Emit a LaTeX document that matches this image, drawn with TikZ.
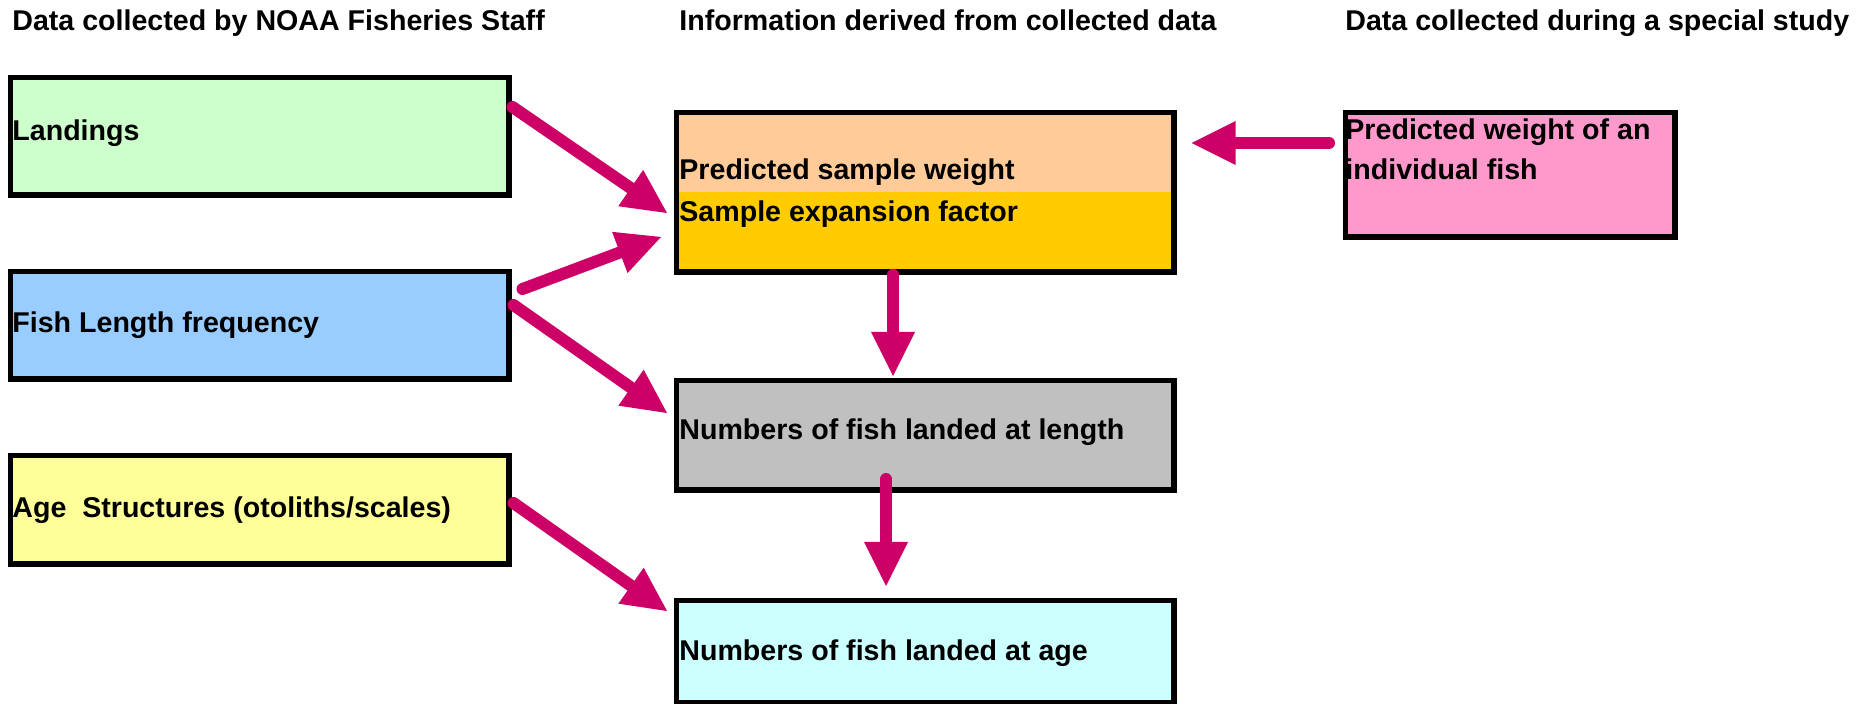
\documentclass[tikz,border=0pt]{standalone}
\usepackage{fontspec}
\setmainfont{Liberation Sans}
\usetikzlibrary{arrows.meta,calc}
\definecolor{arrowc}{HTML}{CC0066}
\definecolor{landc}{HTML}{CCFFCC}
\definecolor{fishc}{HTML}{99CCFF}
\definecolor{agec}{HTML}{FFFF99}
\definecolor{peachc}{HTML}{FFCC99}
\definecolor{goldc}{HTML}{FFCC00}
\definecolor{pinkc}{HTML}{FF99CC}
\definecolor{grayc}{HTML}{C0C0C0}
\definecolor{cyanc}{HTML}{CCFFFF}
\begin{document}
\begin{tikzpicture}[x=0.5pt,y=-0.5pt,
  box/.style={draw=black,line width=2.75pt,inner sep=0pt,anchor=north west,minimum width=249.25pt},
  lbl/.style={anchor=base west,inner sep=0pt,font=\fontsize{14.3pt}{17pt}\selectfont\bfseries},
  conn/.style={draw=arrowc,line width=6pt,line cap=round,
    -{Triangle[length=22pt,width=22pt,line width=0pt]}}]
\useasboundingbox (0,0) rectangle (1866,704);
% titles
\node[lbl] (t1) at (12,31) {Data collected by NOAA Fisheries Staff};
\node[lbl] (t2) at (679,31) {Information derived from collected data};
\node[lbl] (t3) at (1345,31) {Data collected during a special study};
% left boxes
\node[box,fill=landc,minimum height=58.75pt] (land) at (7.75,74.75) {};
\node[box,fill=fishc,minimum height=53.75pt] (fish) at (7.75,268.75) {};
\node[box,fill=agec,minimum height=54.25pt] (age) at (7.75,452.75) {};
% centre boxes
\fill[peachc] (673.75,109.75) rectangle (1171.25,192);
\fill[goldc] (673.75,192) rectangle (1171.25,269.25);
\node[box,minimum width=248.75pt,minimum height=79.75pt] (pred) at (673.75,109.75) {};
\node[box,fill=grayc,minimum width=248.75pt,minimum height=54.75pt] (gray) at (673.75,377.75) {};
\node[box,fill=cyanc,minimum width=248.75pt,minimum height=51.25pt] (cyan) at (673.75,597.75) {};
% right box
\node[box,fill=pinkc,minimum width=164.75pt,minimum height=62.25pt] (pink) at (1342.75,109.75) {};
% texts
\node[lbl] (landt) at (12,141) {Landings};
\node[lbl] (fisht) at (12,333) {Fish Length frequency};
\node[lbl] (aget) at (12,518) {Age\ \ Structures (otoliths/scales)};
\node[lbl] (predt1) at (679,180) {Predicted sample weight};
\node[lbl] (predt2) at (679,222) {Sample expansion factor};
\node[lbl] (pinkt1) at (1345,140) {Predicted weight of an};
\node[lbl] (pinkt2) at (1345,180) {individual fish};
\node[lbl] (grayt) at (679,440) {Numbers of fish landed at length};
\node[lbl] (cyant) at (679,660) {Numbers of fish landed at age};
% connectors
\draw[conn] ($(land.north east)+(0.75,32.25)$) -- ($(pred.north west)+(-6.75,103.25)$);
\draw[conn] ($(fish.north east)+(10.75,20.25)$) -- ($(pred.north west)+(-12.75,127.25)$);
\draw[conn] ($(fish.north east)+(1.75,36.25)$) -- ($(gray.north west)+(-6.75,35.25)$);
\draw[conn] ($(age.north east)+(1.75,50.25)$) -- ($(cyan.north west)+(-6.75,13.25)$);
\draw[conn] ($(pred.south west)+(219.25,0)$) -- ($(gray.north west)+(219.25,-1.75)$);
\draw[conn] ($(gray.north west)+(212.25,101.25)$) -- ($(cyan.north west)+(212.25,-11.75)$);
\draw[conn] ($(pink.north west)+(-13.75,33.25)$) -- ($(pred.north east)+(14.75,33.25)$);
\end{tikzpicture}
\end{document}
